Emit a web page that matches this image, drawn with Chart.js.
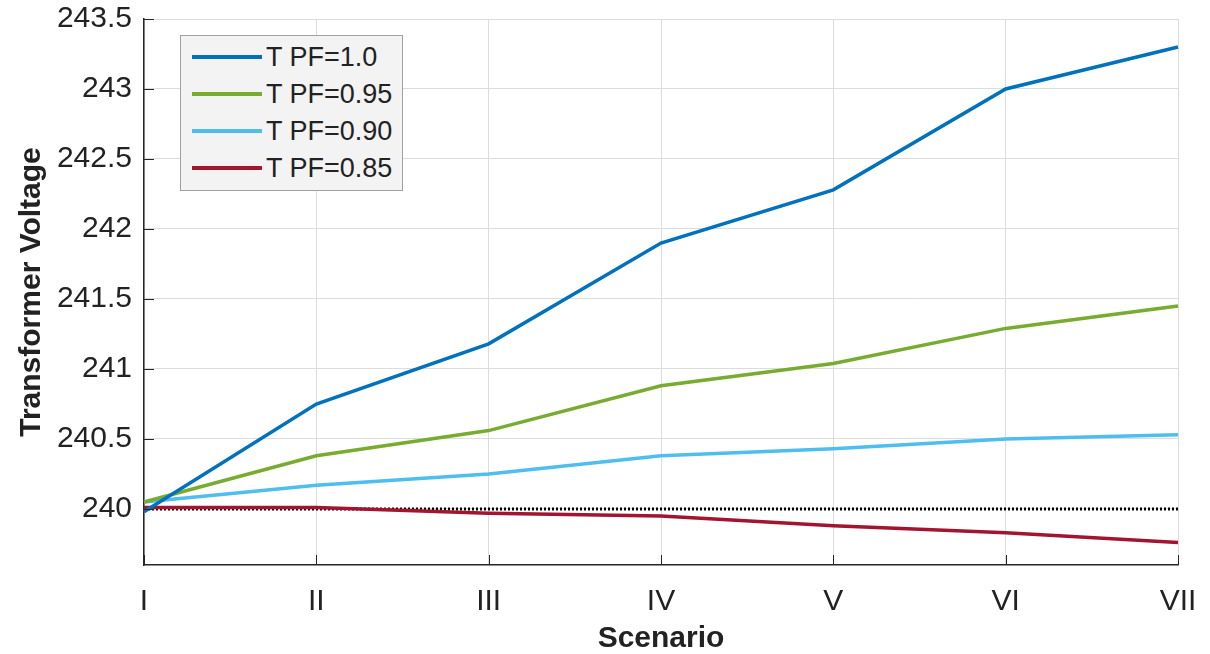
<!DOCTYPE html>
<html>
<head>
<meta charset="utf-8">
<script src="https://cdn.jsdelivr.net/npm/chart.js@4/dist/chart.umd.min.js"></script>
<style>
  html, body { margin: 0; padding: 0; background: #fff; }
  #wrap { position: relative; width: 1210px; height: 654px; }
  #legend {
    position: absolute; left: 180px; top: 35px; width: 221px; height: 154px;
    background: #f3f3f3; border: 1px solid #a0a0a0;
    font-family: "Liberation Sans", Arial, sans-serif; font-size: 27px; color: #222;
  }
  .row { position: absolute; left: 11px; height: 30px; display: flex; align-items: center; white-space: nowrap; }
  .row span.sw { display: inline-block; width: 70px; height: 3.5px; margin-right: 4px; }
</style>
</head>
<body>
<div id="wrap">
  <canvas id="chart" width="1210" height="654"></canvas>
  <div id="legend"></div>
</div>
<script>
const scenarios = ["I", "II", "III", "IV", "V", "VI", "VII"];
const pf100 = [239.98, 240.75, 241.18, 241.90, 242.28, 243.00, 243.30];
const pf095 = [240.05, 240.38, 240.56, 240.88, 241.04, 241.29, 241.45];
const pf090 = [240.05, 240.17, 240.25, 240.38, 240.43, 240.50, 240.53];
const pf085 = [240.01, 240.01, 239.97, 239.95, 239.88, 239.83, 239.76];
const nominal = [240, 240, 240, 240, 240, 240, 240];
const yTicks = [240, 240.5, 241, 241.5, 242, 242.5, 243, 243.5];

const series = [
  { label: "T PF=1.0", data: pf100, color: "#0072BD" },
  { label: "T PF=0.95", data: pf095, color: "#77AC30" },
  { label: "T PF=0.90", data: pf090, color: "#4DBEEE" },
  { label: "T PF=0.85", data: pf085, color: "#A2142F" }
];

const font = "'Liberation Sans', Arial, sans-serif";

// legend entries as html
const legend = document.getElementById("legend");
series.forEach(function (s, i) {
  const row = document.createElement("div");
  row.className = "row";
  row.style.top = (6 + i * 37) + "px";
  row.innerHTML = '<span class="sw" style="background:' + s.color + '"></span>' + s.label;
  legend.appendChild(row);
});

// inward tick marks like matlab
const innerTicks = {
  id: "innerTicks",
  afterDraw(chart) {
    const c = chart.ctx, x = chart.scales.x, y = chart.scales.y, a = chart.chartArea;
    c.save();
    c.strokeStyle = "#262626";
    c.lineWidth = 1;
    c.beginPath();
    yTicks.forEach(function (v) {
      const py = Math.round(y.getPixelForValue(v)) + 0.5;
      c.moveTo(a.left, py); c.lineTo(a.left + 10, py);
    });
    scenarios.forEach(function (s, i) {
      const px = Math.round(x.getPixelForValue(i)) + 0.5;
      c.moveTo(px, a.bottom); c.lineTo(px, a.bottom - 10);
    });
    c.stroke();
    c.restore();
  }
};

const datasets = series.map(function (s) {
  return {
    label: s.label, data: s.data, borderColor: s.color, backgroundColor: s.color,
    borderWidth: 3.5, pointRadius: 0, tension: 0, fill: false
  };
});
datasets.push({
  label: "nominal", data: nominal, borderColor: "#000", borderWidth: 3,
  borderDash: [2, 2], pointRadius: 0, fill: false
});

new Chart(document.getElementById("chart").getContext("2d"), {
  type: "line",
  data: { labels: scenarios, datasets: datasets },
  plugins: [innerTicks],
  options: {
    responsive: false,
    animation: false,
    layout: { padding: { top: 19, right: 32, left: 0, bottom: 0 } },
    plugins: { legend: { display: false }, tooltip: { enabled: false } },
    scales: {
      x: {
        type: "category",
        offset: false,
        grid: { color: "#dcdcdc", drawTicks: false },
        border: { color: "#262626", width: 1.5 },
        ticks: { color: "#222", font: { family: font, size: 30 }, padding: 19, maxRotation: 0 },
        title: { display: true, text: "Scenario", color: "#222", font: { family: font, size: 30, weight: "bold" }, padding: { top: 0, bottom: -3 } },
        afterFit(scale) { scale.height = 89; scale.paddingLeft = 0; scale.paddingRight = 0; }
      },
      y: {
        min: 239.6,
        max: 243.5,
        grid: { color: "#dcdcdc", drawTicks: false },
        border: { color: "#262626", width: 1.5 },
        afterBuildTicks(scale) { scale.ticks = yTicks.map(function (v) { return { value: v }; }); },
        ticks: {
          color: "#222", font: { family: font, size: 30 }, padding: 12,
          callback: function (v) { return String(Math.round(v * 10) / 10); }
        },
        title: { display: true, text: "Transformer Voltage", color: "#222", font: { family: font, size: 30, weight: "bold" }, padding: { top: 14, bottom: 0 } },
        afterFit(scale) { scale.width = 144; scale.paddingTop = 0; scale.paddingBottom = 0; }
      }
    }
  }
});
</script>
</body>
</html>
